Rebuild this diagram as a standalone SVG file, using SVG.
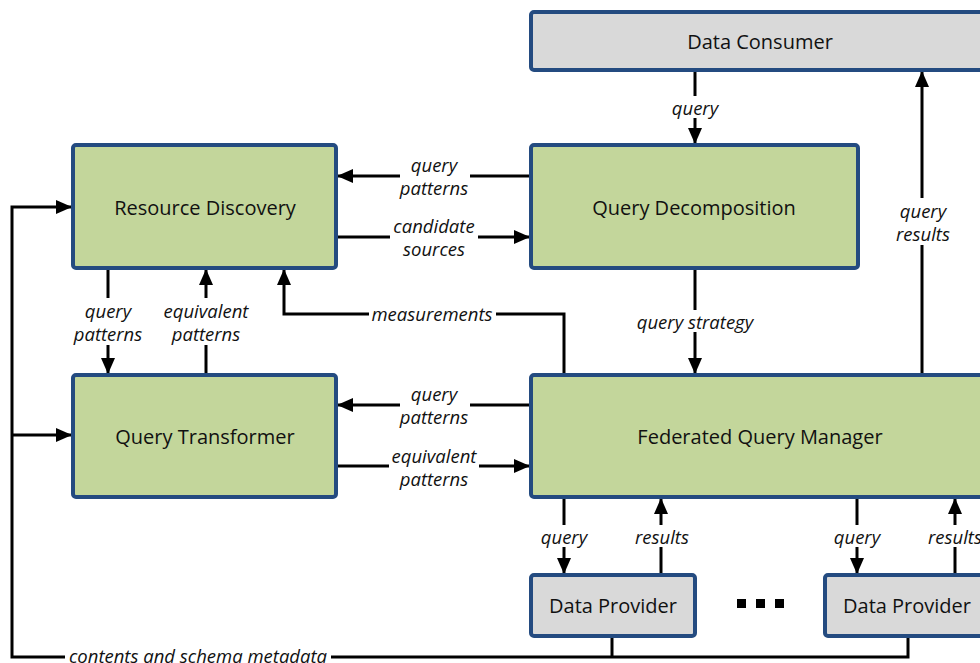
<svg xmlns="http://www.w3.org/2000/svg" width="980" height="663" viewBox="0 0 980 663">
<defs>
<style>
.box{stroke:#244b80;stroke-width:4}
.g{fill:#c3d69b}
.gr{fill:#d9d9d9}
.t{font-family:"Open Sans","Liberation Sans",sans-serif;font-size:20px;fill:#111;text-anchor:middle;dominant-baseline:central}
.l{font-family:"Open Sans","Liberation Sans",sans-serif;font-size:18.5px;font-style:italic;fill:#111;text-anchor:middle;dominant-baseline:central}
.c{fill:none;stroke:#000;stroke-width:3}
.bg{fill:#fff}
</style>
<marker id="a" markerUnits="userSpaceOnUse" markerWidth="16" markerHeight="16" viewBox="0 0 16 16" refX="15" refY="8" orient="auto">
<path d="M0,1 L16,8 L0,15 Z" fill="#000"/>
</marker>
</defs>
<g id="connectors">
<path class="c" d="M695,70 V143" marker-end="url(#a)"/>
<path class="c" d="M922,375 V72" marker-end="url(#a)"/>
<path class="c" d="M531,176 H338" marker-end="url(#a)"/>
<path class="c" d="M336,237 H529" marker-end="url(#a)"/>
<path class="c" d="M695,268 V373" marker-end="url(#a)"/>
<path class="c" d="M564,375 V314 H284 V270" marker-end="url(#a)"/>
<path class="c" d="M108,268 V373" marker-end="url(#a)"/>
<path class="c" d="M206,375 V270" marker-end="url(#a)"/>
<path class="c" d="M531,405 H338" marker-end="url(#a)"/>
<path class="c" d="M336,466 H529" marker-end="url(#a)"/>
<path class="c" d="M564,497 V573" marker-end="url(#a)"/>
<path class="c" d="M661,575 V499" marker-end="url(#a)"/>
<path class="c" d="M857,497 V573" marker-end="url(#a)"/>
<path class="c" d="M955,575 V499" marker-end="url(#a)"/>
<path class="c" d="M612,636 V657"/>
<path class="c" d="M908,636 V657 H12 V207 H71" marker-end="url(#a)"/>
<path class="c" d="M12,435 H71" marker-end="url(#a)"/>
<rect class="bg" x="666" y="96" width="58" height="22"/>
<text class="l" x="695" y="107">query</text>
<rect class="bg" x="893" y="198" width="60" height="47"/>
<text class="l" x="923" y="210">query</text>
<text class="l" x="923" y="233">results</text>
<rect class="bg" x="400" y="152" width="70" height="47"/>
<text class="l" x="434" y="164">query</text>
<text class="l" x="434" y="187">patterns</text>
<rect class="bg" x="390" y="213" width="88" height="47"/>
<text class="l" x="434" y="225">candidate</text>
<text class="l" x="434" y="248">sources</text>
<rect class="bg" x="633" y="310" width="124" height="22"/>
<text class="l" x="695" y="321">query strategy</text>
<rect class="bg" x="369" y="303" width="127" height="22"/>
<text class="l" x="432" y="313">measurements</text>
<rect class="bg" x="72" y="298" width="72" height="47"/>
<text class="l" x="108" y="310">query</text>
<text class="l" x="108" y="333">patterns</text>
<rect class="bg" x="161" y="298" width="90" height="47"/>
<text class="l" x="206" y="310">equivalent</text>
<text class="l" x="206" y="333">patterns</text>
<rect class="bg" x="400" y="381" width="70" height="47"/>
<text class="l" x="434" y="393">query</text>
<text class="l" x="434" y="416">patterns</text>
<rect class="bg" x="389" y="443" width="90" height="47"/>
<text class="l" x="434" y="455">equivalent</text>
<text class="l" x="434" y="478">patterns</text>
<rect class="bg" x="537" y="525" width="56" height="22"/>
<text class="l" x="564" y="536">query</text>
<rect class="bg" x="632" y="525" width="60" height="22"/>
<text class="l" x="662" y="536">results</text>
<rect class="bg" x="829" y="525" width="56" height="22"/>
<text class="l" x="857" y="536">query</text>
<rect class="bg" x="925" y="525" width="60" height="22"/>
<text class="l" x="955" y="536">results</text>
<rect class="bg" x="65" y="646" width="266" height="20"/>
<text class="l" x="198" y="655">contents and schema metadata</text>
</g>
<g id="data-consumer">
<rect class="box gr" x="531" y="12" width="458" height="58" rx="3"/>
<text class="t" x="760" y="41">Data Consumer</text>
</g>
<g id="resource-discovery">
<rect class="box g" x="73" y="145" width="263" height="123" rx="3"/>
<text class="t" x="205" y="207">Resource Discovery</text>
</g>
<g id="query-decomposition">
<rect class="box g" x="531" y="145" width="327" height="123" rx="3"/>
<text class="t" x="694" y="207">Query Decomposition</text>
</g>
<g id="query-transformer">
<rect class="box g" x="73" y="375" width="263" height="122" rx="3"/>
<text class="t" x="205" y="436">Query Transformer</text>
</g>
<g id="federated-query-manager">
<rect class="box g" x="531" y="375" width="458" height="122" rx="3"/>
<text class="t" x="760" y="436">Federated Query Manager</text>
</g>
<g id="data-provider-1">
<rect class="box gr" x="531" y="575" width="164" height="61" rx="3"/>
<text class="t" x="613" y="605">Data Provider</text>
</g>
<g id="ellipsis">
<rect x="737" y="599" width="9" height="9" fill="#000"/>
<rect x="756" y="599" width="9" height="9" fill="#000"/>
<rect x="775" y="599" width="9" height="9" fill="#000"/>
</g>
<g id="data-provider-2">
<rect class="box gr" x="825" y="575" width="164" height="61" rx="3"/>
<text class="t" x="907" y="605">Data Provider</text>
</g>
</svg>
